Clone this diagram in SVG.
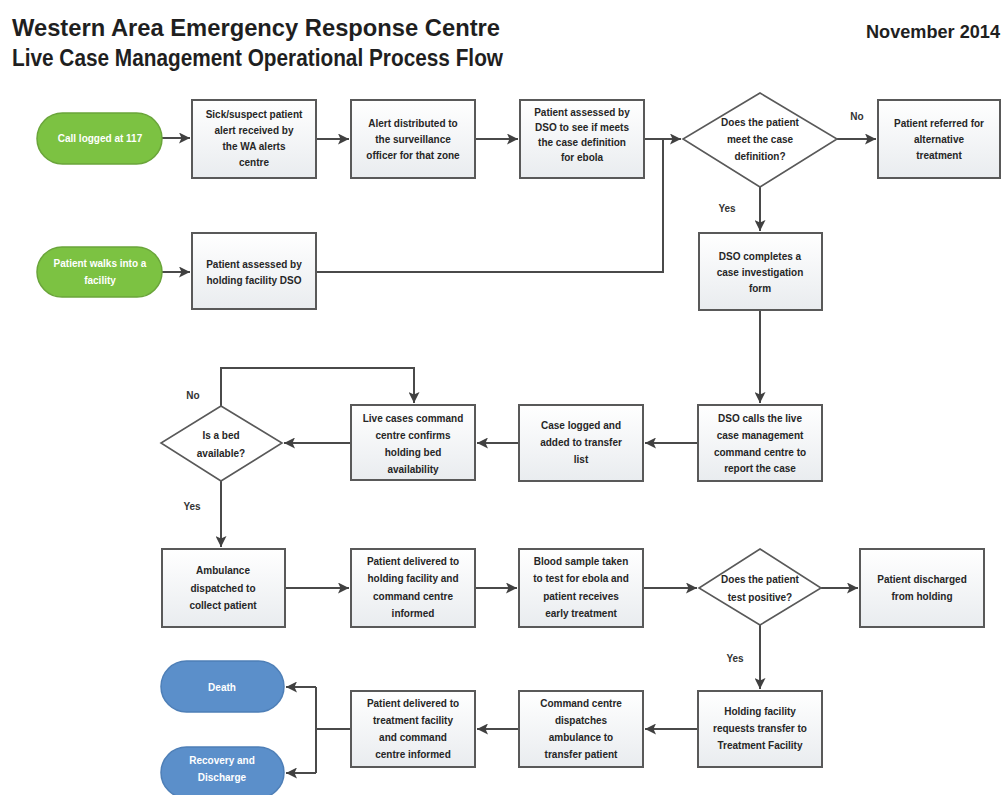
<svg xmlns="http://www.w3.org/2000/svg" width="1008" height="795" viewBox="0 0 1008 795">
<defs>
<linearGradient id="boxg" x1="0" y1="0" x2="0" y2="1">
<stop offset="0" stop-color="#ffffff"/>
<stop offset="1" stop-color="#e9ecef"/>
</linearGradient>
<marker id="arr" markerWidth="12" markerHeight="11" refX="11" refY="5.5" orient="auto" markerUnits="userSpaceOnUse">
<path d="M0,0 L11,5.5 L0,11 L2.5,5.5 Z" fill="#404040"/>
</marker>
<style>
.box{fill:url(#boxg);stroke:#595959;stroke-width:2}
.dia{fill:#ffffff;stroke:#595959;stroke-width:1.6}
.green{fill:#7cc242;stroke:#6aa53a;stroke-width:1.5}
.blue{fill:#5b8fca;stroke:#4e7fb7;stroke-width:1.5}
.t{font-family:"Liberation Sans",Arial,sans-serif;font-size:10px;font-weight:bold;fill:#262626;text-anchor:middle}
.w{font-family:"Liberation Sans",Arial,sans-serif;font-size:10px;font-weight:bold;fill:#ffffff;text-anchor:middle}
.lbl{font-family:"Liberation Sans",Arial,sans-serif;font-size:10px;font-weight:bold;fill:#333333;text-anchor:middle}
.c{fill:none;stroke:#4a4a4a;stroke-width:2}
.title{font-family:"Liberation Sans",Arial,sans-serif;font-weight:bold;fill:#1f1f1f}
</style>
</defs>
<rect width="1008" height="795" fill="#ffffff"/>

<g id="title">
<text class="title" x="12" y="36" font-size="24" textLength="488" lengthAdjust="spacingAndGlyphs">Western Area Emergency Response Centre</text>
<text class="title" x="12" y="66" font-size="23" textLength="491" lengthAdjust="spacingAndGlyphs" fill="#2a2a2a">Live Case Management Operational Process Flow</text>
<text class="title" x="866" y="38" font-size="18" textLength="134" lengthAdjust="spacingAndGlyphs" fill="#333">November 2014</text>
</g>

<g id="connectors">
<path class="c" d="M162,138 H190" marker-end="url(#arr)"/>
<path class="c" d="M316,139 H349" marker-end="url(#arr)"/>
<path class="c" d="M475,139 H518" marker-end="url(#arr)"/>
<path class="c" d="M644,139 H681" marker-end="url(#arr)"/>
<path class="c" d="M162,272 H190" marker-end="url(#arr)"/>
<path class="c" d="M316,272 H663 V139"/>
<path class="c" d="M837,139 H876" marker-end="url(#arr)"/>
<path class="c" d="M760,187 V231" marker-end="url(#arr)"/>
<path class="c" d="M760,310 V403" marker-end="url(#arr)"/>
<path class="c" d="M698,443 H645" marker-end="url(#arr)"/>
<path class="c" d="M519,443 H477" marker-end="url(#arr)"/>
<path class="c" d="M351,443 H284" marker-end="url(#arr)"/>
<path class="c" d="M221,406 V368 H414 V403" marker-end="url(#arr)"/>
<path class="c" d="M221,481 V547" marker-end="url(#arr)"/>
<path class="c" d="M285,588 H349" marker-end="url(#arr)"/>
<path class="c" d="M475,588 H517" marker-end="url(#arr)"/>
<path class="c" d="M643,588 H697" marker-end="url(#arr)"/>
<path class="c" d="M821,588 H858" marker-end="url(#arr)"/>
<path class="c" d="M760,625 V689" marker-end="url(#arr)"/>
<path class="c" d="M698,729 H645" marker-end="url(#arr)"/>
<path class="c" d="M519,729 H477" marker-end="url(#arr)"/>
<path class="c" d="M351,729 H316"/>
<path class="c" d="M316,687 V773"/>
<path class="c" d="M316,687 H286" marker-end="url(#arr)"/>
<path class="c" d="M316,773 H286" marker-end="url(#arr)"/>
<text class="lbl" x="857" y="120">No</text>
<text class="lbl" x="727" y="212">Yes</text>
<text class="lbl" x="193" y="399">No</text>
<text class="lbl" x="192" y="510">Yes</text>
<text class="lbl" x="735" y="662">Yes</text>
</g>

<g id="n_call">
<rect class="green" x="37" y="113" width="125" height="51" rx="25.5"/>
<text class="w" x="100" y="142">Call logged at 117</text>
</g>
<g id="n_alert">
<rect class="box" x="192" y="100" width="124" height="78"/>
<text class="t" x="254" y="118">Sick/suspect patient</text>
<text class="t" x="254" y="134">alert received by</text>
<text class="t" x="254" y="150">the WA alerts</text>
<text class="t" x="254" y="166">centre</text>
</g>
<g id="n_distributed">
<rect class="box" x="351" y="100" width="124" height="78"/>
<text class="t" x="413" y="127">Alert distributed to</text>
<text class="t" x="413" y="143">the surveillance</text>
<text class="t" x="413" y="159">officer for that zone</text>
</g>
<g id="n_assessed">
<rect class="box" x="520" y="100" width="124" height="78"/>
<text class="t" x="582" y="116">Patient assessed by</text>
<text class="t" x="582" y="131">DSO to see if meets</text>
<text class="t" x="582" y="146">the case definition</text>
<text class="t" x="582" y="161">for ebola</text>
</g>
<g id="n_meet">
<polygon class="dia" points="760,93 837,139 760,187 683,139"/>
<text class="t" x="760" y="126">Does the patient</text>
<text class="t" x="760" y="143">meet the case</text>
<text class="t" x="760" y="160">definition?</text>
</g>
<g id="n_referred">
<rect class="box" x="878" y="100" width="122" height="78"/>
<text class="t" x="939" y="127">Patient referred for</text>
<text class="t" x="939" y="143">alternative</text>
<text class="t" x="939" y="159">treatment</text>
</g>
<g id="n_walk">
<rect class="green" x="37" y="247" width="125" height="50" rx="25"/>
<text class="w" x="100" y="267">Patient walks into a</text>
<text class="w" x="100" y="284">facility</text>
</g>
<g id="n_holding_dso">
<rect class="box" x="192" y="233" width="124" height="76"/>
<text class="t" x="254" y="268">Patient assessed by</text>
<text class="t" x="254" y="284">holding facility DSO</text>
</g>
<g id="n_form">
<rect class="box" x="699" y="233" width="123" height="77"/>
<text class="t" x="760" y="260">DSO completes a</text>
<text class="t" x="760" y="276">case investigation</text>
<text class="t" x="760" y="292">form</text>
</g>
<g id="n_calls">
<rect class="box" x="698" y="405" width="124" height="76"/>
<text class="t" x="760" y="422">DSO calls the live</text>
<text class="t" x="760" y="439">case management</text>
<text class="t" x="760" y="456">command centre to</text>
<text class="t" x="760" y="472">report the case</text>
</g>
<g id="n_logged">
<rect class="box" x="519" y="405" width="124" height="76"/>
<text class="t" x="581" y="429">Case logged and</text>
<text class="t" x="581" y="446">added to transfer</text>
<text class="t" x="581" y="463">list</text>
</g>
<g id="n_confirms">
<rect class="box" x="351" y="405" width="124" height="75"/>
<text class="t" x="413" y="422">Live cases command</text>
<text class="t" x="413" y="439">centre confirms</text>
<text class="t" x="413" y="456">holding bed</text>
<text class="t" x="413" y="473">availability</text>
</g>
<g id="n_bed">
<polygon class="dia" points="221,406 282,443 221,481 161,443"/>
<text class="t" x="221" y="439">Is a bed</text>
<text class="t" x="221" y="457">available?</text>
</g>
<g id="n_ambulance">
<rect class="box" x="162" y="549" width="123" height="78"/>
<text class="t" x="223" y="574">Ambulance</text>
<text class="t" x="223" y="592">dispatched to</text>
<text class="t" x="223" y="609">collect patient</text>
</g>
<g id="n_delivered_holding">
<rect class="box" x="351" y="549" width="124" height="78"/>
<text class="t" x="413" y="565">Patient delivered to</text>
<text class="t" x="413" y="582">holding facility and</text>
<text class="t" x="413" y="600">command centre</text>
<text class="t" x="413" y="617">informed</text>
</g>
<g id="n_blood">
<rect class="box" x="519" y="549" width="124" height="78"/>
<text class="t" x="581" y="565">Blood sample taken</text>
<text class="t" x="581" y="582">to test for ebola and</text>
<text class="t" x="581" y="600">patient receives</text>
<text class="t" x="581" y="617">early treatment</text>
</g>
<g id="n_positive">
<polygon class="dia" points="760,549 821,588 760,625 699,588"/>
<text class="t" x="760" y="583">Does the patient</text>
<text class="t" x="760" y="601">test positive?</text>
</g>
<g id="n_discharged">
<rect class="box" x="860" y="549" width="124" height="78"/>
<text class="t" x="922" y="583">Patient discharged</text>
<text class="t" x="922" y="600">from holding</text>
</g>
<g id="n_requests">
<rect class="box" x="698" y="691" width="124" height="76"/>
<text class="t" x="760" y="715">Holding facility</text>
<text class="t" x="760" y="732">requests transfer to</text>
<text class="t" x="760" y="749">Treatment Facility</text>
</g>
<g id="n_dispatches">
<rect class="box" x="519" y="691" width="124" height="76"/>
<text class="t" x="581" y="707">Command centre</text>
<text class="t" x="581" y="724">dispatches</text>
<text class="t" x="581" y="741">ambulance to</text>
<text class="t" x="581" y="758">transfer patient</text>
</g>
<g id="n_delivered_treatment">
<rect class="box" x="351" y="691" width="124" height="76"/>
<text class="t" x="413" y="707">Patient delivered to</text>
<text class="t" x="413" y="724">treatment facility</text>
<text class="t" x="413" y="741">and command</text>
<text class="t" x="413" y="758">centre informed</text>
</g>
<g id="n_death">
<rect class="blue" x="161" y="661" width="123" height="51" rx="25.5"/>
<text class="w" x="222" y="691">Death</text>
</g>
<g id="n_recovery">
<rect class="blue" x="161" y="747" width="123" height="51" rx="25.5"/>
<text class="w" x="222" y="764">Recovery and</text>
<text class="w" x="222" y="781">Discharge</text>
</g>
</svg>
